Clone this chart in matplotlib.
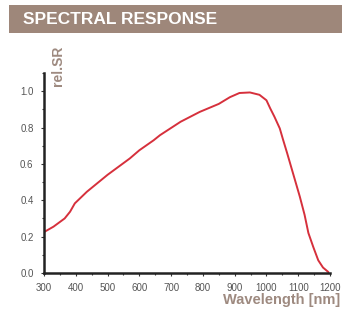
import matplotlib
matplotlib.use("Agg")
import matplotlib.pyplot as plt
from matplotlib.patches import Rectangle
from matplotlib.ticker import MultipleLocator

wavelength = [300, 330, 365, 382, 397, 435, 500, 570, 600, 645, 665, 730, 790, 850, 885, 915,
              948, 978, 1000, 1012, 1025, 1042, 1052, 1065, 1085, 1105, 1120, 1132, 1148,
              1163, 1178, 1195]
rel_sr = [0.225, 0.255, 0.30, 0.337, 0.383, 0.447, 0.54, 0.63, 0.675, 0.73, 0.758, 0.832, 0.886,
          0.93, 0.967, 0.99, 0.993, 0.98, 0.95, 0.905, 0.86, 0.795, 0.735, 0.66, 0.54, 0.42,
          0.32, 0.22, 0.14, 0.07, 0.03, 0.005]
x_ticks = [300, 400, 500, 600, 700, 800, 900, 1000, 1100, 1200]
y_ticks = [0.0, 0.2, 0.4, 0.6, 0.8, 1.0]
title = "SPECTRAL RESPONSE"
y_label = "rel.SR"
x_label = "Wavelength [nm]"

plt.rcParams['font.family'] = ['Liberation Sans', 'DejaVu Sans']

fig = plt.figure(figsize=(3.42, 3.11), dpi=100)
W, H = 342, 311

# Title banner
fig.patches.append(Rectangle((9 / W, 1 - 33 / H), 1 - 9 / W, 28 / H, transform=fig.transFigure,
                             facecolor="#9e877a", edgecolor="none"))
fig.text(23 / W, 1 - 19.5 / H, title, color="white", fontsize=12.5, fontweight="bold",
         va="center", ha="left")

ax = fig.add_axes([44 / W, 1 - 273 / H, (330 - 44) / W, (273 - 73) / H])
ax.plot(wavelength, rel_sr, color="#d6303c", lw=1.4, solid_capstyle="round",
        solid_joinstyle="round")
ax.set_xlim(300, 1200)
ax.set_ylim(0, 1.1)
ax.set_xticks(x_ticks)
ax.set_yticks(y_ticks)
ax.set_yticklabels([f"{v:.1f}" for v in y_ticks])
ax.xaxis.set_minor_locator(MultipleLocator(50))
ax.yaxis.set_minor_locator(MultipleLocator(0.1))
for s in ["top", "right"]:
    ax.spines[s].set_visible(False)
for s in ["left", "bottom"]:
    ax.spines[s].set_linewidth(1.8)
    ax.spines[s].set_color("#222222")
ax.tick_params(which="both", direction="out", color="#333333", labelcolor="#555555",
               labelsize=7, width=0.8)
ax.tick_params(which="major", length=2.5)
ax.tick_params(axis="y", which="major", pad=5)
ax.tick_params(axis="x", which="major", pad=4.5)
ax.tick_params(which="minor", length=1.5)

fig.text(58 / W, 1 - 66 / H, y_label, rotation=90, color="#9e8a80", fontsize=10,
         fontweight="bold", ha="center", va="center")
fig.text(340 / W, 1 - 300 / H, x_label, color="#9e8a80", fontsize=10.5,
         fontweight="bold", ha="right", va="center")

fig.savefig("out.png", dpi=100)
